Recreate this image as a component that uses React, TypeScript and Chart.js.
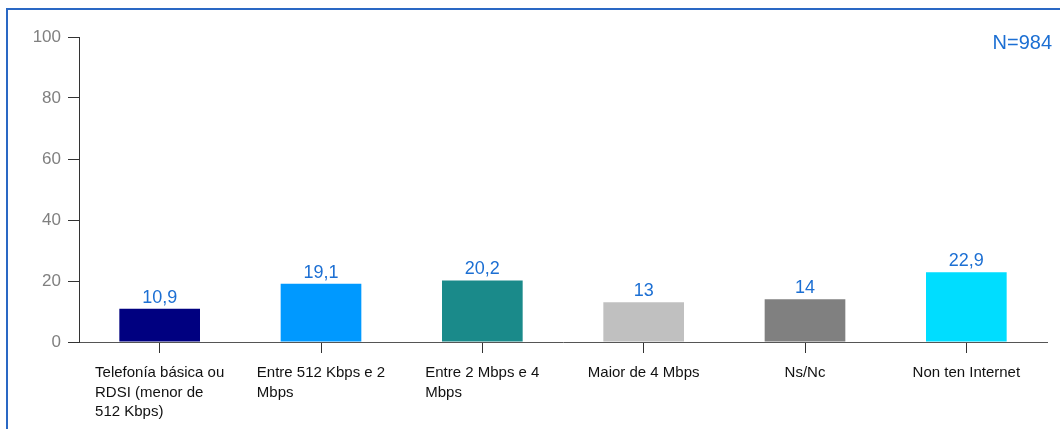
import React, { useEffect, useRef } from "react";
import { Chart } from "chart.js/auto";

const categories: string[][] = [
  ["Telefonía básica ou", "RDSI (menor de", "512 Kbps)"],
  ["Entre 512 Kbps e 2", "Mbps"],
  ["Entre 2 Mbps e 4", "Mbps"],
  ["Maior de 4 Mbps"],
  ["Ns/Nc"],
  ["Non ten Internet"],
];
const values: number[] = [10.9, 19.1, 20.2, 13, 14, 22.9];
const valueLabels: string[] = ["10,9", "19,1", "20,2", "13", "14", "22,9"];
const barColors: string[] = ["#000080", "#0099FF", "#1A8A8A", "#C0C0C0", "#808080", "#00DDFF"];
const yTicks: number[] = [0, 20, 40, 60, 80, 100];
const sampleNote = "N=984";

const FONT = '"Liberation Sans", Arial, sans-serif';
const BLUE = "#1C6FD3";

const labelsPlugin = {
  id: "customLabels",
  afterDraw(chart: any) {
    const ctx = chart.ctx;
    const xs = chart.scales.x;
    ctx.save();
    // x category labels: block centered, lines left-aligned
    ctx.font = `15px ${FONT}`;
    ctx.fillStyle = "#111111";
    ctx.textBaseline = "alphabetic";
    ctx.textAlign = "left";
    categories.forEach((lines, i) => {
      const cx = xs.getPixelForValue(i);
      const w = Math.max(...lines.map((l) => ctx.measureText(l).width));
      const left = cx - w / 2;
      lines.forEach((l, k) => {
        ctx.fillText(l, left, xs.top + 35 + k * 19.5);
      });
    });
    // value labels
    const meta = chart.getDatasetMeta(0);
    ctx.font = `18px ${FONT}`;
    ctx.fillStyle = BLUE;
    ctx.textAlign = "center";
    meta.data.forEach((bar: any, i: number) => {
      ctx.fillText(valueLabels[i], bar.x, bar.y - 6);
    });
    // N note
    ctx.font = `20px ${FONT}`;
    ctx.textAlign = "right";
    ctx.fillText(sampleNote, 1052, 49);
    ctx.restore();
  },
};

export default function App() {
  const canvasRef = useRef<HTMLCanvasElement | null>(null);

  useEffect(() => {
    if (!canvasRef.current) return;
    const chart = new Chart(canvasRef.current, {
      type: "bar",
      data: {
        labels: categories.map((c) => c.join(" ")),
        datasets: [
          {
            data: values,
            backgroundColor: barColors,
            borderWidth: 0,
            barPercentage: 0.5,
            categoryPercentage: 1,
          },
        ],
      },
      options: {
        animation: false,
        responsive: false,
        maintainAspectRatio: false,
        layout: { padding: { left: 0, right: 13, top: 37, bottom: 0 } },
        plugins: {
          legend: { display: false },
          tooltip: { enabled: false },
          title: { display: false },
        },
        scales: {
          x: {
            offset: true,
            grid: {
              offset: false,
              drawOnChartArea: false,
              drawTicks: true,
              tickLength: 11,
              tickColor: "#333333",
            },
            border: { display: true, color: "#555555", width: 1 },
            ticks: { display: false },
            afterFit(scale: any) {
              scale.height = 87;
            },
          },
          y: {
            min: 0,
            max: 100,
            afterBuildTicks(scale: any) {
              scale.ticks = yTicks.map((v) => ({ value: v }));
            },
            grid: {
              drawOnChartArea: false,
              drawTicks: true,
              tickLength: 11,
              tickColor: "#333333",
            },
            border: { display: true, color: "#333333", width: 1 },
            ticks: {
              color: "#808080",
              font: { family: FONT, size: 17 },
              padding: 7,
            },
            afterFit(scale: any) {
              scale.width = 79;
            },
          },
        },
      },
      plugins: [labelsPlugin],
    });
    return () => chart.destroy();
  }, []);

  return (
    <div
      style={{
        position: "fixed",
        left: 0,
        top: 0,
        width: 1060,
        height: 429,
        overflow: "hidden",
        background: "#ffffff",
      }}
    >
      <canvas
        ref={canvasRef}
        width={1060}
        height={429}
        style={{ position: "absolute", left: 0, top: 0, width: 1060, height: 429 }}
      />
      <div
        style={{
          position: "absolute",
          left: 6,
          top: 8,
          width: 1200,
          height: 600,
          borderTop: "2px solid #2A68C4",
          borderLeft: "2px solid #2A68C4",
          pointerEvents: "none",
        }}
      />
    </div>
  );
}
